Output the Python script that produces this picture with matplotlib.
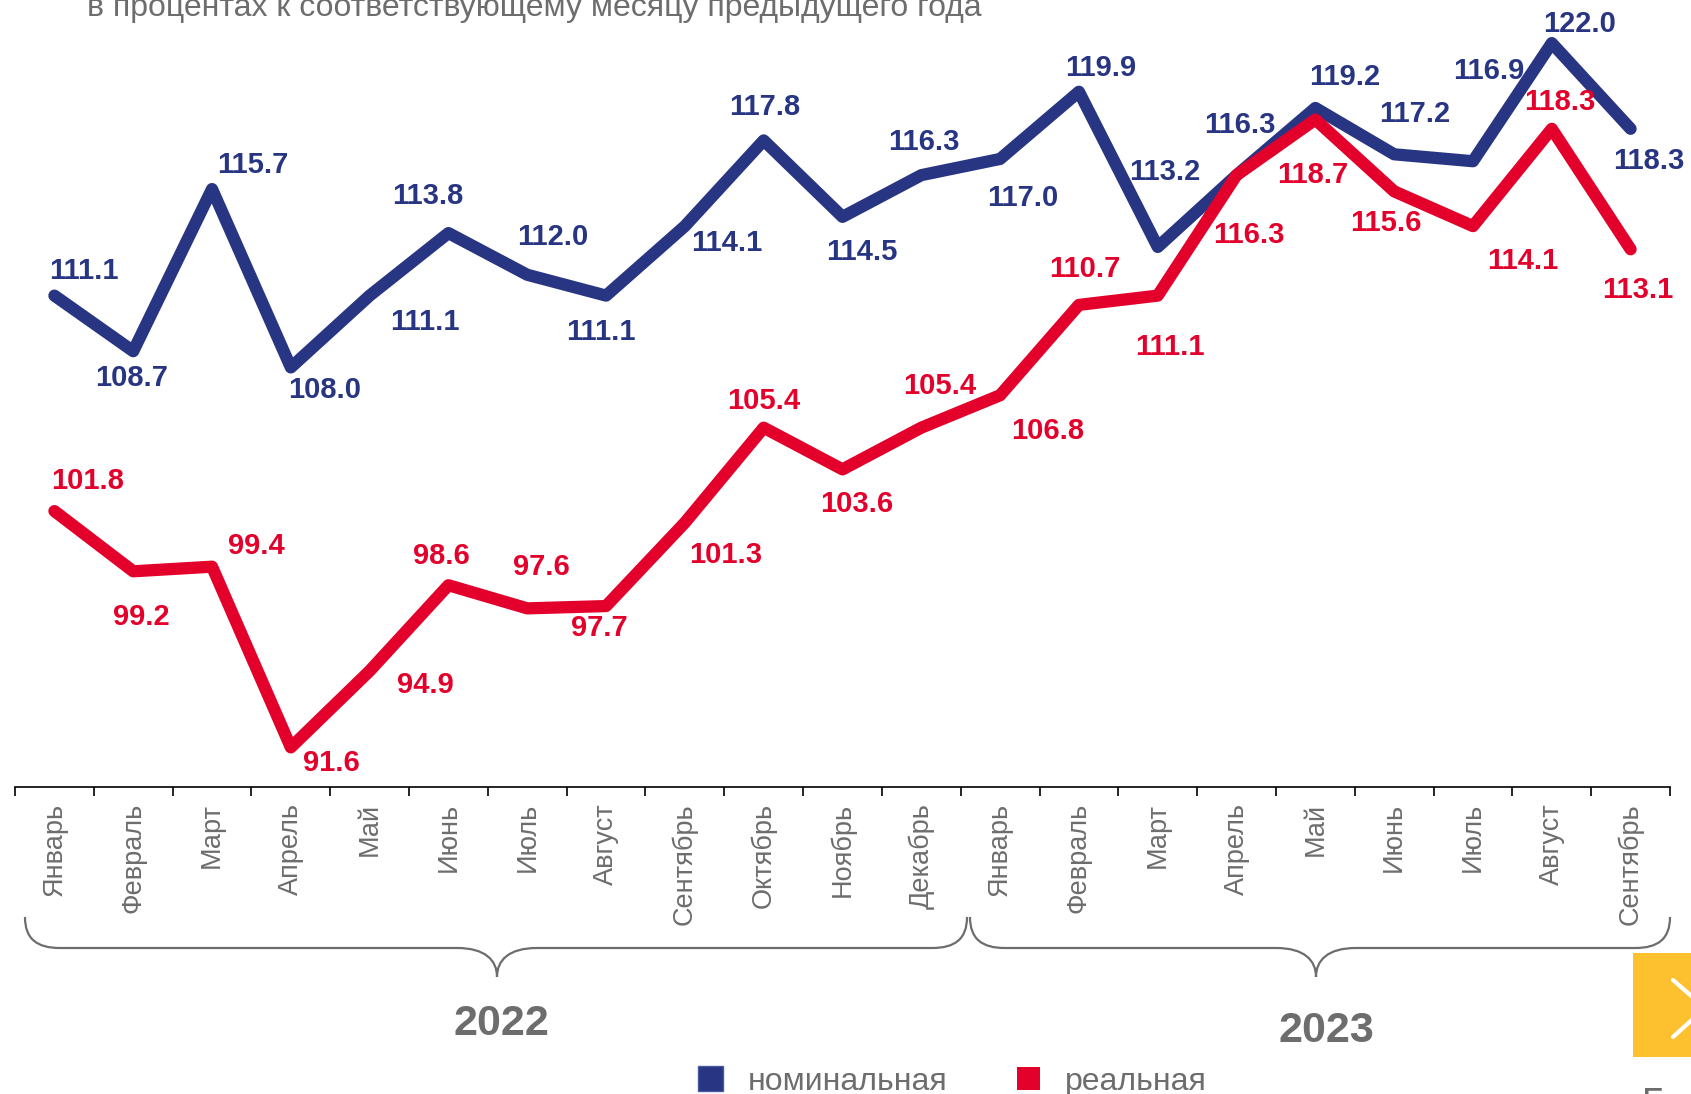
import matplotlib.pyplot as plt
from matplotlib.path import Path
from matplotlib.patches import PathPatch, Rectangle
from matplotlib.lines import Line2D

plt.rcParams["font.family"] = ["Liberation Sans", "DejaVu Sans"]

# --- data -------------------------------------------------------------
months = ["Январь", "Февраль", "Март", "Апрель", "Май", "Июнь", "Июль",
          "Август", "Сентябрь", "Октябрь", "Ноябрь", "Декабрь",
          "Январь", "Февраль", "Март", "Апрель", "Май", "Июнь", "Июль",
          "Август", "Сентябрь"]
years = ["2022", "2023"]
nominal = [111.1, 108.7, 115.7, 108.0, 111.1, 113.8, 112.0, 111.1, 114.1,
           117.8, 114.5, 116.3, 117.0, 119.9, 113.2, 116.3, 119.2, 117.2,
           116.9, 122.0, 118.3]
real = [101.8, 99.2, 99.4, 91.6, 94.9, 98.6, 97.6, 97.7, 101.3, 105.4,
        103.6, 105.4, 106.8, 110.7, 111.1, 116.3, 118.7, 115.6, 114.1,
        118.3, 113.1]
series_names = ["номинальная", "реальная"]

# label offsets (points) relative to each point
nominal_off = [(21, 18), (-1, -19), (29, 17), (24, -16), (40, -19), (-15, 27),
               (18, 27), (-4, -26), (30, -12), (1, 24), (14, -25), (2, 24),
               (16, -28), (16, 17), (5, 54), (2, 36), (21, 22), (15, 29),
               (11, 65), (20, 14), (13, -23)]
real_off = [(24, 22), (6, -33), (32, 15), (29, -11), (40, -10), (-5, 21),
            (10, 30), (-5, -16), (29, -23), (0, 19), (10, -25), (13, 30),
            (34, -26), (4, 26), (9, -37), (9, -43), (-2, -40), (-6, -23),
            (36, -25), (6, 19), (5, -29)]

BLUE = "#283583"
RED = "#e3002b"
GRAY = "#6d6d6d"

W, H = 1691, 1094
fig = plt.figure(figsize=(W / 100, H / 100), dpi=100)


def fx(x):
    return x / W


def fy(y):
    return 1 - y / H


ax = fig.add_axes([fx(15), fy(787), 1655 / W, 787 / H])
x = list(range(len(months)))

ax.plot(x, nominal, color=BLUE, lw=8.8, solid_capstyle="round",
        solid_joinstyle="round", clip_on=False)
ax.plot(x, real, color=RED, lw=8.8, solid_capstyle="round",
        solid_joinstyle="round", clip_on=False)

for vals, offs, col in [(nominal, nominal_off, BLUE), (real, real_off, RED)]:
    for i, v in enumerate(vals):
        ax.annotate(f"{v:.1f}", (i, v), xytext=offs[i], textcoords="offset points",
                    ha="center", va="center", fontsize=21, fontweight="bold",
                    color=col, annotation_clip=False)

ax.set_xlim(-0.5, len(months) - 0.5)
ax.set_ylim(89.89, 123.86)
for s in ["top", "left", "right"]:
    ax.spines[s].set_visible(False)
ax.spines["bottom"].set_linewidth(1.2)
ax.set_yticks([])
ax.set_xticks(x)
ax.set_xticklabels(months, rotation=90, fontsize=19.5, color=GRAY, va="top")
ax.set_xticks([i - 0.5 for i in range(len(months) + 1)], minor=True)
ax.tick_params(axis="x", which="major", length=0, pad=11.5)
ax.tick_params(axis="x", which="minor", length=6.5, width=1.2, direction="out")

# title (cut by the crop)
fig.text(fx(87), fy(16), "в процентах к соответствующему месяцу предыдущего года",
         fontsize=23, color=GRAY, va="baseline", ha="left")


# year braces
def brace(x0, xm, x1, top=917, mid=948, tip=977):
    pts = [(x0, top), (x0, top + 22), (x0 + 12, mid), (x0 + 35, mid),
           (xm - 40, mid), (xm - 12, mid), (xm, mid + 12), (xm, tip),
           (xm, mid + 12), (xm + 12, mid), (xm + 40, mid),
           (x1 - 35, mid), (x1 - 12, mid), (x1, top + 22), (x1, top)]
    codes = [Path.MOVETO, Path.CURVE4, Path.CURVE4, Path.CURVE4,
             Path.LINETO, Path.CURVE4, Path.CURVE4, Path.CURVE4,
             Path.CURVE4, Path.CURVE4, Path.CURVE4,
             Path.LINETO, Path.CURVE4, Path.CURVE4, Path.CURVE4]
    p = Path([(fx(a), fy(b)) for a, b in pts], codes)
    fig.add_artist(PathPatch(p, fill=False, edgecolor=GRAY, lw=1.6,
                             transform=fig.transFigure))


brace(25, 497, 967)
brace(970, 1316, 1670)
fig.text(fx(501), fy(1024), years[0], fontsize=31, fontweight="bold",
         color=GRAY, ha="center", va="center")
fig.text(fx(1326), fy(1031), years[1], fontsize=31, fontweight="bold",
         color=GRAY, ha="center", va="center")

# legend
fig.add_artist(Rectangle((fx(698), fy(1091)), 25 / W, 25 / H, facecolor=BLUE,
                         edgecolor="#4a5aa0", lw=1, transform=fig.transFigure))
fig.text(fx(748), fy(1090), series_names[0], fontsize=23, color=GRAY,
         va="baseline", ha="left")
fig.add_artist(Rectangle((fx(1017), fy(1090)), 23 / W, 23 / H, facecolor=RED,
                         edgecolor="none", transform=fig.transFigure))
fig.text(fx(1065), fy(1090), series_names[1], fontsize=23, color=GRAY,
         va="baseline", ha="left")

# slide navigation button and page number
fig.add_artist(Rectangle((fx(1633), fy(1057)), 70 / W, 104 / H,
                         facecolor="#fdc02f", edgecolor="none",
                         transform=fig.transFigure))
fig.add_artist(Line2D([fx(1673), fx(1705), fx(1673)], [fy(980), fy(1008), fy(1037)],
                      color="white", lw=3, solid_capstyle="round",
                      transform=fig.transFigure))
fig.text(fx(1641), fy(1086), "5", fontsize=30, color=GRAY, va="top", ha="left")

fig.savefig("out.png", dpi=100)
